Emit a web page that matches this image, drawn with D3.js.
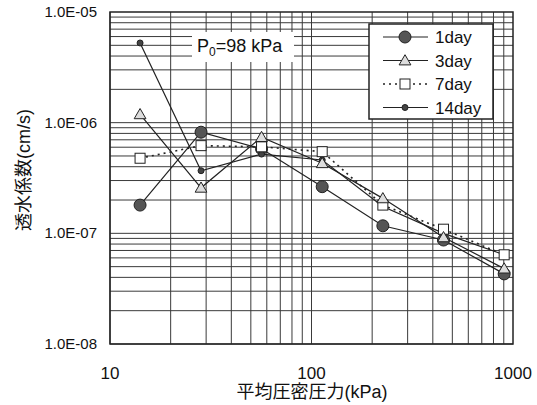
<!doctype html>
<html lang="ja">
<head>
  <meta charset="UTF-8">
  <title>透水係数</title>
  <style type="text/css">
    body { margin: 0; background: #fff; }
    text { font-family: "Liberation Sans", Arial, "Noto Sans CJK JP", sans-serif; fill: #111; }
    .cjk { font-family: "Liberation Sans", "Noto Sans CJK JP", sans-serif; }
  </style>
  <script src="https://cdn.jsdelivr.net/npm/d3@7/dist/d3.min.js"></script>
</head>
<body>
  <div id="container"></div>
  <script>
    // 平均圧密圧力 (kPa)
    var pressure = [14.1, 28.3, 56.5, 113, 226, 452, 904];
    var seriesNames = ['1day', '3day', '7day', '14day'];
    var day1 = [1.80e-7, 8.2e-7, 5.8e-7, 2.64e-7, 1.17e-7, 8.7e-8, 4.3e-8];
    var day3 = [1.19e-6, 2.58e-7, 7.4e-7, 4.3e-7, 2.07e-7, 9.2e-8, 4.8e-8];
    var day7 = [4.77e-7, 6.2e-7, 6.05e-7, 5.47e-7, 1.8e-7, 1.09e-7, 6.4e-8];
    var day14 = [5.25e-6, 3.68e-7, 5.2e-7, 4.6e-7, 1.75e-7, 1.0e-7, 6.4e-8];
    var xTicks = [10, 100, 1000];
    var yTicks = [1e-8, 1e-7, 1e-6, 1e-5];
    var yTickLabels = ['1.0E-08', '1.0E-07', '1.0E-06', '1.0E-05'];

    var width = 537, height = 405,
      margin = { left: 110, top: 12, right: 24, bottom: 61 },
      g_width = width - margin.left - margin.right,
      g_height = height - margin.top - margin.bottom;

    var svg = d3.select('#container').append('svg').attr('width', width).attr('height', height);
    var g = svg.append('g').attr('transform', 'translate(' + margin.left + ',' + margin.top + ')');

    var x = d3.scaleLog().domain([10, 1000]).range([0, g_width]);
    var y = d3.scaleLog().domain([1e-8, 1e-5]).range([g_height, 0]);

    // グリッド（各桁の 1〜9）
    var xGrid = [], yGrid = [];
    [10, 100].forEach(function (d) { for (var k = 1; k < 10; k++) xGrid.push(d * k); });
    [1e-8, 1e-7, 1e-6].forEach(function (d) { for (var k = 1; k < 10; k++) yGrid.push(d * k); });

    g.selectAll('.xg').data(xGrid).enter().append('line')
      .attr('x1', d => x(d)).attr('x2', d => x(d)).attr('y1', 0).attr('y2', g_height)
      .attr('stroke', '#3a3a3a').attr('stroke-width', 1);
    g.selectAll('.yg').data(yGrid).enter().append('line')
      .attr('y1', d => y(d)).attr('y2', d => y(d)).attr('x1', 0).attr('x2', g_width)
      .attr('stroke', '#3a3a3a').attr('stroke-width', 1);
    g.append('rect').attr('width', g_width).attr('height', g_height)
      .attr('fill', 'none').attr('stroke', '#222').attr('stroke-width', 1.5);

    // 軸ラベル
    svg.selectAll('.xt').data(xTicks).enter().append('text')
      .attr('x', d => margin.left + x(d)).attr('y', 379)
      .attr('text-anchor', 'middle').attr('font-size', 17).text(d => d);
    svg.selectAll('.yt').data(yTicks).enter().append('text')
      .attr('x', 97).attr('y', d => margin.top + y(d) + 5)
      .attr('text-anchor', 'end').attr('font-size', 15).text((d, i) => yTickLabels[i]);

    svg.append('text').attr('class', 'cjk').attr('x', 312).attr('y', 398)
      .attr('text-anchor', 'middle').attr('font-size', 18).text('平均圧密圧力(kPa)');
    svg.append('text').attr('class', 'cjk')
      .attr('transform', 'translate(30,170) rotate(-90)')
      .attr('text-anchor', 'middle').attr('font-size', 18).text('透水係数(cm/s)');

    // P0 ラベル
    g.append('rect').attr('x', 192 - margin.left).attr('y', 32 - margin.top)
      .attr('width', 102).attr('height', 30).attr('fill', '#fff');
    var pt = g.append('text').attr('x', 197 - margin.left).attr('y', 52 - margin.top).attr('font-size', 18);
    pt.append('tspan').text('P');
    pt.append('tspan').attr('font-size', 12).attr('dy', 4).text('0');
    pt.append('tspan').attr('dy', -4).text('=98 kPa');

    var line = d3.line().x((d, i) => x(pressure[i])).y(d => y(d));
    var allSeries = [day1, day3, day7, day14];
    var styles = [
      { dash: null, marker: 'bigcircle' },
      { dash: null, marker: 'triangle' },
      { dash: '2,4', marker: 'square' },
      { dash: null, marker: 'dot' }
    ];

    function drawMarker(sel, type) {
      if (type === 'bigcircle') {
        sel.append('circle').attr('r', 6).attr('fill', '#555').attr('stroke', '#222').attr('stroke-width', 1);
      } else if (type === 'triangle') {
        sel.append('path').attr('d', d3.symbol().type(d3.symbolTriangle).size(60)())
          .attr('transform', 'translate(0,1)')
          .attr('fill', '#ddd').attr('stroke', '#222').attr('stroke-width', 1);
      } else if (type === 'square') {
        sel.append('rect').attr('x', -5).attr('y', -5).attr('width', 10).attr('height', 10)
          .attr('fill', '#fff').attr('stroke', '#222').attr('stroke-width', 1);
      } else {
        sel.append('circle').attr('r', 3).attr('fill', '#444').attr('stroke', '#222').attr('stroke-width', 1);
      }
    }

    allSeries.forEach(function (s, k) {
      g.append('path').attr('d', line(s)).attr('fill', 'none')
        .attr('stroke', '#222').attr('stroke-width', k === 2 ? 1.6 : 1.2)
        .attr('stroke-dasharray', styles[k].dash);
    });
    // 1day は 7day の下に隠れる
    [0, 3, 2, 1].forEach(function (k) {
      allSeries[k].forEach(function (v, i) {
        var m = g.append('g').attr('transform', 'translate(' + x(pressure[i]) + ',' + y(v) + ')');
        drawMarker(m, styles[k].marker);
      });
    });

    // 凡例
    var lg = svg.append('g');
    lg.append('rect').attr('x', 369).attr('y', 24).attr('width', 124).attr('height', 95)
      .attr('fill', '#fff').attr('stroke', '#222').attr('stroke-width', 1.5);
    seriesNames.forEach(function (name, k) {
      var yy = 37 + k * 23.5;
      lg.append('line').attr('x1', 383).attr('x2', 428).attr('y1', yy).attr('y2', yy)
        .attr('stroke', '#222').attr('stroke-width', k === 2 ? 1.6 : 1.2)
        .attr('stroke-dasharray', styles[k].dash);
      var m = lg.append('g').attr('transform', 'translate(405,' + yy + ')');
      drawMarker(m, styles[k].marker);
      lg.append('text').attr('x', 435).attr('y', yy + 6).attr('font-size', 17).text(name);
    });
  </script>
</body>
</html>
